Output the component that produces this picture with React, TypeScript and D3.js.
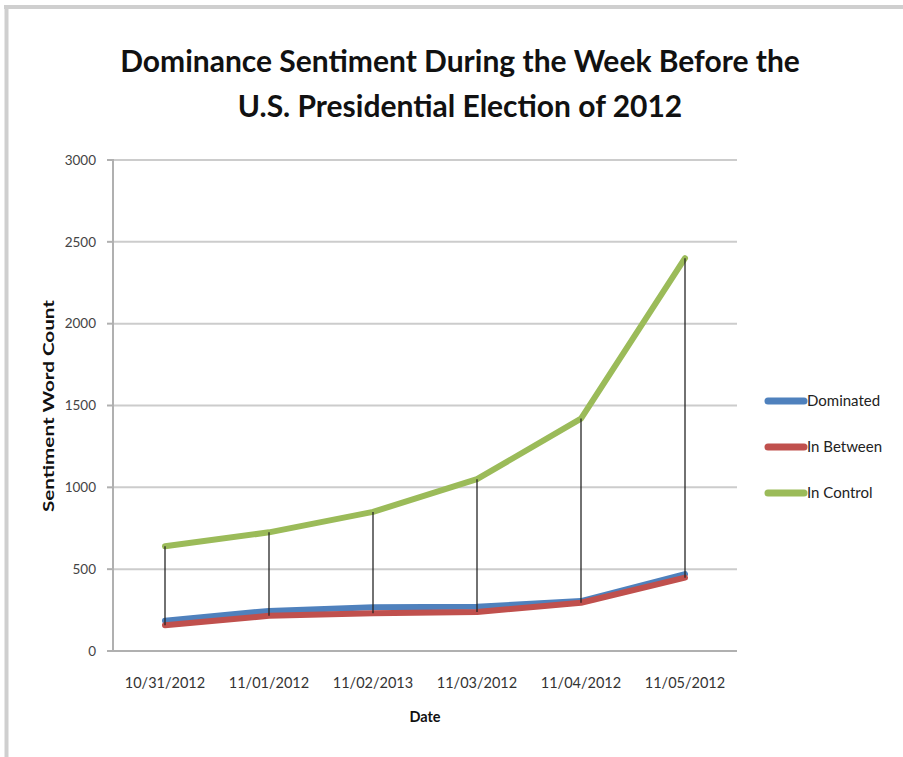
import React from "react";
import * as d3 from "d3";

const categories = ["10/31/2012", "11/01/2012", "11/02/2013", "11/03/2012", "11/04/2012", "11/05/2012"];
const dominated = [185, 245, 268, 270, 305, 470];
const inBetween = [158, 215, 230, 238, 295, 448];
const inControl = [640, 725, 850, 1050, 1420, 2400];
const yTicks = [0, 500, 1000, 1500, 2000, 2500, 3000];
const seriesNames = ["Dominated", "In Between", "In Control"];
const seriesColors = ["#4F81BD", "#C0504D", "#9BBB59"];

const W = 903;
const H = 757;
const left = 113;
const right = 737;
const top = 160;
const bottom = 651;
const FONT = "Lato, 'Open Sans', sans-serif";

export default function App() {
  const x = d3.scaleBand<string>().domain(categories).range([left, right]).padding(0);
  const y = d3.scaleLinear().domain([0, 3000]).range([bottom, top]);
  const cx = (c: string) => (x(c) as number) + x.bandwidth() / 2;
  const line = d3
    .line<number>()
    .x((_, i) => cx(categories[i]))
    .y((v) => y(v));
  const allSeries = [dominated, inBetween, inControl];
  const drawOrder = [2, 0, 1];

  return (
    <svg width={W} height={H} style={{ position: "absolute", left: 0, top: 0, background: "#fff" }}>
      <rect x={0} y={0} width={W} height={H} fill="#fff" />
      {/* frame */}
      <line x1={4} x2={W} y1={7} y2={7} stroke="#cfcfcf" strokeWidth={4} />
      <line x1={6.5} x2={6.5} y1={5} y2={H} stroke="#cfcfcf" strokeWidth={4} />

      {/* title */}
      <text x={460} y={72} textAnchor="middle" fontFamily={FONT} fontWeight={700} fontSize={30} fill="#111">
        Dominance Sentiment During the Week Before the
      </text>
      <text x={460} y={117} textAnchor="middle" fontFamily={FONT} fontWeight={700} fontSize={30} fill="#111">
        U.S. Presidential Election of 2012
      </text>

      {/* gridlines */}
      {yTicks.map((t) => (
        <g key={t}>
          {t > 0 && <line x1={left} x2={right} y1={y(t)} y2={y(t)} stroke="#cccccc" strokeWidth={2} />}
          <line x1={left - 6} x2={left} y1={y(t)} y2={y(t)} stroke="#b0b0b0" strokeWidth={2} />
          <text x={96} y={y(t)} dy="0.35em" textAnchor="end" fontFamily={FONT} fontSize={13.5} fill="#444">
            {t}
          </text>
        </g>
      ))}
      {/* axes */}
      <line x1={left} x2={left} y1={top - 1} y2={bottom} stroke="#b0b0b0" strokeWidth={2} />
      <line x1={left - 6} x2={right} y1={bottom} y2={bottom} stroke="#b0b0b0" strokeWidth={2} />

      {/* x labels */}
      {categories.map((c) => (
        <text key={c} x={cx(c)} y={688} textAnchor="middle" fontFamily={FONT} fontSize={14.5} fill="#333">
          {c}
        </text>
      ))}

      {/* axis titles */}
      <text x={425} y={722} textAnchor="middle" fontFamily={FONT} fontWeight={700} fontSize={14.5} fill="#111">
        Date
      </text>
      <text
        transform={`translate(54,406) rotate(-90)`}
        textAnchor="middle"
        fontFamily={FONT}
        fontWeight={700}
        fontSize={15}
        textLength={212}
        lengthAdjust="spacingAndGlyphs"
        fill="#111"
      >
        Sentiment Word Count
      </text>

      {/* series lines */}
      {drawOrder.map((si) => (
        <path
          key={si}
          d={line(allSeries[si]) as string}
          fill="none"
          stroke={seriesColors[si]}
          strokeWidth={6}
          strokeLinejoin="round"
          strokeLinecap="round"
        />
      ))}

      {/* high-low lines */}
      {categories.map((c, i) => {
        const hi = Math.max(dominated[i], inBetween[i], inControl[i]);
        const lo = Math.min(dominated[i], inBetween[i], inControl[i]);
        return (
          <line key={c} x1={cx(c)} x2={cx(c)} y1={y(hi)} y2={y(lo)} stroke="#222" strokeOpacity={0.85} strokeWidth={1.5} />
        );
      })}

      {/* legend */}
      {seriesNames.map((n, i) => (
        <g key={n} transform={`translate(0,${401 + i * 46})`}>
          <line x1={768} x2={804} y1={0} y2={0} stroke={seriesColors[i]} strokeWidth={7} strokeLinecap="round" />
          <text x={807} y={0} dy="0.35em" fontFamily={FONT} fontSize={15} fill="#222">
            {n}
          </text>
        </g>
      ))}
    </svg>
  );
}
